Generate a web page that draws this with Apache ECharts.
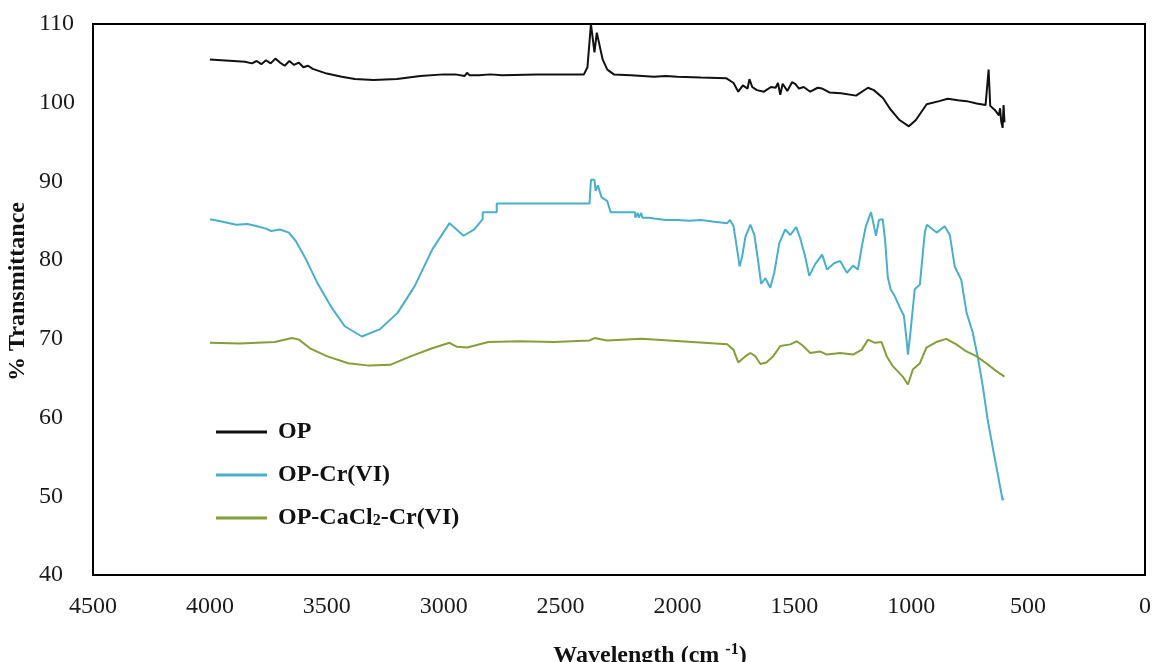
<!DOCTYPE html>
<html>
<head>
<meta charset="utf-8">
<script src="https://cdn.jsdelivr.net/npm/echarts@6/dist/echarts.min.js"></script>
<style>
html, body { margin: 0; padding: 0; background: #fff; }
#chart { width: 1154px; height: 662px; }
</style>
</head>
<body>
<div id="chart"></div>
<script>
// wavenumber ticks and series names
const xTicks = [4500, 4000, 3500, 3000, 2500, 2000, 1500, 1000, 500, 0];
const seriesNames = ['OP', 'OP-Cr(VI)', 'OP-CaCl2-Cr(VI)'];

// OP
const opWave = [4000, 3950, 3900, 3850, 3820, 3800, 3780, 3760, 3740, 3720, 3700, 3680, 3660, 3640, 3620, 3600,
    3580, 3560, 3500, 3436, 3380, 3300, 3200, 3100, 3000, 2950, 2910, 2900, 2890, 2850, 2800, 2750, 2600, 2500,
    2400, 2385, 2370, 2355, 2345, 2320, 2300, 2272, 2200, 2100, 2050, 2000, 1900, 1790, 1760, 1740, 1720, 1700,
    1692, 1680, 1660, 1630, 1600, 1580, 1570, 1560, 1550, 1530, 1510, 1496, 1480, 1460, 1432, 1400, 1381, 1350,
    1300, 1236, 1185, 1160, 1121, 1090, 1050, 1010, 980, 934, 880, 844, 800, 763, 720, 682, 669, 662, 640, 625,
    620, 615, 609, 605, 601];
const opT = [105.5, 105.4, 105.3, 105.2, 105.0, 105.3, 104.9, 105.4, 105.0, 105.6, 105.1, 104.7, 105.3, 104.8, 105.1, 104.5,
    104.7, 104.3, 103.7, 103.3, 103.0, 102.9, 103.0, 103.4, 103.6, 103.6, 103.4, 103.8, 103.5, 103.5, 103.6, 103.5, 103.6, 103.6,
    103.6, 104.5, 110.0, 106.4, 108.9, 105.5, 104.2, 103.6, 103.5, 103.3, 103.4, 103.3, 103.2, 103.1, 102.5, 101.4, 102.2, 101.8,
    103.0, 102.0, 101.6, 101.4, 102.0, 101.9, 102.5, 101.0, 102.4, 101.5, 102.6, 102.4, 101.8, 102.0, 101.4, 101.9, 101.8, 101.3,
    101.2, 100.9, 101.9, 101.6, 100.6, 99.2, 97.8, 97.0, 97.8, 99.8, 100.2, 100.5, 100.3, 100.2, 99.9, 99.7, 104.2, 99.6, 99.0, 98.4,
    99.3, 97.6, 96.8, 99.7, 97.5];

// OP-Cr(VI)
const crWave = [4000, 3950, 3887, 3840, 3798, 3760, 3738, 3700, 3662, 3632, 3589, 3542, 3482, 3423, 3350, 3274,
    3197, 3124, 3048, 2975, 2915, 2869, 2833, 2833, 2773, 2773, 2376, 2370, 2355, 2350, 2340, 2325, 2300, 2286,
    2182, 2180, 2170, 2165, 2155, 2150, 2122, 2100, 2050, 2000, 1950, 1900, 1850, 1787, 1775, 1760, 1745, 1734,
    1723, 1709, 1688, 1671, 1654, 1642, 1624, 1603, 1586, 1564, 1539, 1517, 1492, 1475, 1454, 1436, 1411, 1381,
    1360, 1330, 1304, 1275, 1249, 1228, 1211, 1194, 1172, 1164, 1151, 1138, 1122, 1112, 1100, 1088, 1070, 1049,
    1031, 1020, 1014, 1002, 985, 963, 942, 933, 891, 857, 835, 814, 786, 763, 737, 716, 694, 673, 652, 631, 609, 605];
const crT = [85.2, 84.9, 84.5, 84.6, 84.3, 84.0, 83.7, 83.9, 83.5, 82.4, 80.1, 77.2, 74.1, 71.6, 70.3, 71.2,
    73.3, 76.7, 81.4, 84.7, 83.1, 83.9, 85.2, 86.1, 86.1, 87.2, 87.2, 90.2, 90.2, 88.8, 89.5, 88.0, 87.5, 86.1,
    86.1, 85.4, 86.0, 85.4, 86.0, 85.4, 85.4, 85.3, 85.1, 85.1, 85.0, 85.1, 84.9, 84.7, 85.1, 84.3, 81.4, 79.2,
    80.5, 83.0, 84.5, 83.2, 79.7, 77.0, 77.7, 76.5, 78.4, 82.2, 83.9, 83.2, 84.2, 82.8, 80.5, 78.0, 79.5, 80.7,
    78.8, 79.6, 79.9, 78.4, 79.3, 78.8, 81.8, 84.3, 86.1, 85.0, 83.1, 85.1, 85.2, 82.6, 77.8, 76.3, 75.4, 74.0,
    72.9, 69.9, 68.0, 71.2, 76.3, 76.9, 83.5, 84.5, 83.5, 84.3, 83.2, 79.2, 77.5, 73.3, 70.8, 67.8, 64.0, 59.7, 56.3, 53.0, 49.5, 49.8];

// OP-CaCl2-Cr(VI)
const caWave = [4000, 3872, 3722, 3649, 3619, 3572, 3500, 3408, 3319, 3229, 3139, 3049, 2975, 2945, 2899, 2809,
    2677, 2528, 2376, 2354, 2302, 2153, 1986, 1787, 1760, 1740, 1709, 1688, 1667, 1645, 1620, 1590, 1560, 1517,
    1489, 1462, 1432, 1390, 1361, 1304, 1249, 1212, 1185, 1155, 1127, 1105, 1078, 1036, 1014, 993, 963, 935,
    893, 850, 807, 764, 722, 679, 636, 601];
const caT = [69.5, 69.4, 69.6, 70.1, 69.9, 68.8, 67.8, 66.9, 66.6, 66.7, 67.8, 68.8, 69.5, 69.0, 68.9, 69.6,
    69.7, 69.6, 69.8, 70.1, 69.8, 70.0, 69.7, 69.3, 68.6, 67.0, 67.8, 68.2, 67.8, 66.8, 67.0, 67.8, 69.1, 69.3,
    69.7, 69.1, 68.2, 68.4, 68.0, 68.2, 68.0, 68.6, 69.9, 69.5, 69.6, 67.8, 66.5, 65.2, 64.2, 66.1, 66.9, 68.9,
    69.6, 70.0, 69.3, 68.4, 67.8, 66.9, 65.9, 65.2];

const colors = ['#111111', '#4aafc9', '#849e3a'];
const serif = "'Liberation Serif', 'Times New Roman', serif";

function zip(xs, ys) {
    return xs.map((x, i) => [x, ys[i]]);
}

const chart = echarts.init(document.getElementById('chart'));

chart.setOption({
    animation: false,
    color: colors,
    grid: {
        show: true,
        left: 93,
        right: 9,
        top: 24,
        bottom: 87,
        outerBoundsMode: 'none',
        borderColor: '#000',
        borderWidth: 2
    },
    legend: {
        orient: 'vertical',
        left: 216,
        top: 420,
        padding: 0,
        icon: 'rect',
        itemWidth: 51,
        itemHeight: 3,
        itemGap: 19,
        data: seriesNames,
        formatter: name => name.replace('CaCl2', 'CaCl{sub|2}'),
        textStyle: {
            fontFamily: serif,
            fontWeight: 'bold',
            fontSize: 24,
            lineHeight: 24,
            color: '#111',
            padding: [0, 0, 0, 6],
            rich: {
                sub: {
                    fontFamily: serif,
                    fontWeight: 'bold',
                    fontSize: 16,
                    color: '#111',
                    padding: [6, 0, 0, 0]
                }
            }
        }
    },
    xAxis: {
        type: 'value',
        inverse: true,
        min: 0,
        max: 4500,
        interval: 500,
        name: '{b|Wavelength (cm }{sup|-1}{b|)}',
        nameLocation: 'middle',
        nameGap: 67,
        nameMoveOverlap: false,
        nameTextStyle: {
            padding: [0, 0, 0, 62],
            rich: {
                b: { fontFamily: serif, fontWeight: 'bold', fontSize: 24, color: '#111' },
                sup: { fontFamily: serif, fontWeight: 'bold', fontSize: 16, color: '#111', verticalAlign: 'top', padding: [0, 0, 12, 0] }
            }
        },
        axisLine: { show: false },
        axisTick: { show: false },
        splitLine: { show: false },
        axisLabel: {
            margin: 20,
            fontFamily: serif,
            fontSize: 24,
            color: '#1a1a1a',
            formatter: v => String(v)
        }
    },
    yAxis: {
        type: 'value',
        min: 40,
        max: 110,
        interval: 10,
        name: '% Transmittance',
        nameLocation: 'middle',
        nameGap: 63,
        nameMoveOverlap: false,
        nameTextStyle: {
            fontFamily: serif,
            fontWeight: 'bold',
            fontSize: 24,
            color: '#111',
            padding: [0, 0, 0, 16]
        },
        axisLine: { show: false },
        axisTick: { show: false },
        splitLine: { show: false },
        axisLabel: {
            margin: 54,
            align: 'left',
            fontFamily: serif,
            fontSize: 24,
            color: '#1a1a1a'
        }
    },
    series: [
        {
            name: seriesNames[0],
            type: 'line',
            symbol: 'none',
            lineStyle: { width: 2 },
            data: zip(opWave, opT)
        },
        {
            name: seriesNames[1],
            type: 'line',
            symbol: 'none',
            lineStyle: { width: 2 },
            data: zip(crWave, crT)
        },
        {
            name: seriesNames[2],
            type: 'line',
            symbol: 'none',
            lineStyle: { width: 2 },
            data: zip(caWave, caT)
        }
    ]
});
</script>
</body>
</html>
